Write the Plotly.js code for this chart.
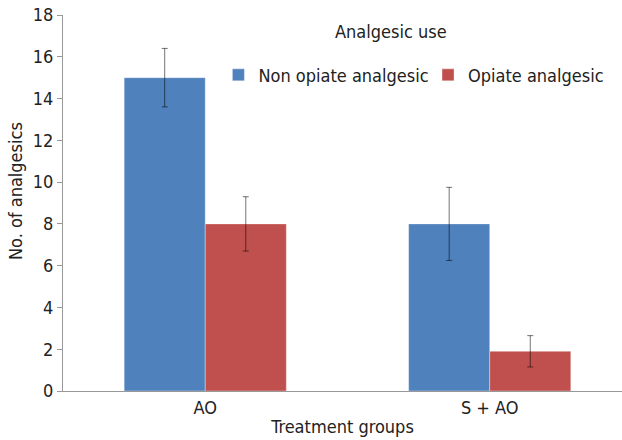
<!DOCTYPE html>
<html>
<head>
<meta charset="utf-8">
<script src="https://cdn.plot.ly/plotly-3.0.1.min.js"></script>
<style>html,body{margin:0;padding:0;background:#fff}#chart{width:622px;height:440px}</style>
</head>
<body>
<div id="chart"></div>
<script>
var categories = ["AO", "S + AO"];
var nonOpiate = [15, 8];
var nonOpiateErr = [1.4, 1.75];
var opiate = [8, 1.9];
var opiateErr = [1.3, 0.75];
var seriesNames = ["Non opiate analgesic", "Opiate analgesic"];
var yTicks = [0, 2, 4, 6, 8, 10, 12, 14, 16, 18];

var FONT = "'DejaVu Sans Condensed', Tahoma, sans-serif";
var errStyle = {type: "data", visible: true, color: "rgba(0,0,0,0.55)", thickness: 1, width: 3};

var traces = [
  {type: "bar", name: seriesNames[0], x: categories, y: nonOpiate, legend: "legend",
   marker: {color: "#4F81BD", line: {color: "rgba(255,255,255,0.35)", width: 1}},
   error_y: Object.assign({array: nonOpiateErr}, errStyle)},
  {type: "bar", name: seriesNames[1], x: categories, y: opiate, legend: "legend2",
   marker: {color: "#C0504D", line: {color: "rgba(255,255,255,0.35)", width: 1}},
   error_y: Object.assign({array: opiateErr}, errStyle)}
];

var legendBase = {orientation: "h", xanchor: "left", y: 0.84, yanchor: "middle",
                  font: {family: FONT, size: 18, color: "#222"}, bgcolor: "rgba(0,0,0,0)"};

var layout = {
  width: 622, height: 440,
  margin: {l: 63, r: 0, t: 15, b: 49},
  paper_bgcolor: "#fff", plot_bgcolor: "#fff",
  font: {family: FONT, size: 18, color: "#222"},
  barmode: "group", bargap: 0.43, bargroupgap: 0,
  showlegend: true,
  legend: Object.assign({x: 0.278}, legendBase),
  legend2: Object.assign({x: 0.653}, legendBase),
  xaxis: {type: "category", range: [-0.5, 1.465], showline: true, linecolor: "#999", linewidth: 1,
          ticks: "", showgrid: false, zeroline: false, tickfont: {size: 18},
          title: {text: "Treatment groups", font: {size: 18}, standoff: 3}},
  yaxis: {range: [0, 18], tickvals: yTicks, ticktext: yTicks.map(String), showline: true,
          linecolor: "#999", linewidth: 1, ticks: "outside", ticklen: 5, tickcolor: "#999",
          showgrid: false, zeroline: false, tickfont: {size: 18}},
  annotations: [
    {text: "Analgesic use", xref: "paper", yref: "paper", x: 0.586, y: 0.955,
     xanchor: "center", yanchor: "middle", showarrow: false,
     font: {family: FONT, size: 18, color: "#222"}},
    {text: "No. of analgesics", xref: "paper", yref: "paper", x: -0.084, y: 0.532,
     xanchor: "center", yanchor: "middle", textangle: -90, showarrow: false,
     font: {family: FONT, size: 18, color: "#222"}}
  ]
};

Plotly.newPlot("chart", traces, layout, {displayModeBar: false, staticPlot: true});
</script>
</body>
</html>
